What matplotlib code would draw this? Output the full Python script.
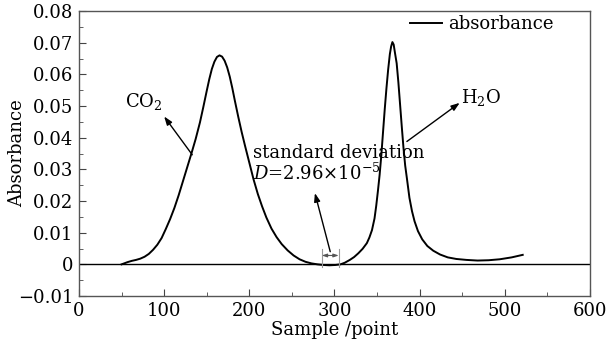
# absorbance curve with CO2 and H2O peaks

import numpy as np
import matplotlib.pyplot as plt
from matplotlib.ticker import MultipleLocator

plt.rcParams['font.family'] = ['DejaVu Serif']
plt.rcParams['mathtext.fontset'] = 'dejavuserif'

#-----------------------------------
# data
sample = [50, 53, 57, 62, 67, 72, 77, 82, 87, 92, 97, 102, 107, 112, 117, 122,
          127, 132, 137, 142, 146, 150, 153, 156, 159, 162, 165, 168, 171, 174,
          177, 180, 183, 187, 191, 195, 200, 205, 210, 215, 220, 226, 232, 238,
          245, 252, 259, 266, 273, 280, 287, 294, 301, 307, 312, 318, 323, 328,
          333, 338, 341, 344, 347, 349, 351, 353, 355, 357, 359, 361, 363, 365,
          366.5, 368, 369.5, 371, 373, 375, 377, 379, 381, 383, 385, 388, 391,
          394, 398, 403, 409, 416, 424, 433, 443, 455, 468, 481, 494, 508, 521]

absorb = [0.0, 0.0003, 0.0007, 0.0011, 0.0014, 0.0018, 0.0024, 0.0033, 0.0046,
          0.0062, 0.0083, 0.0112, 0.0143, 0.0178, 0.0218, 0.0262, 0.0306, 0.035,
          0.0396, 0.0448, 0.0497, 0.0548, 0.0585, 0.0617, 0.064, 0.0655, 0.066,
          0.0656, 0.0643, 0.0622, 0.0593, 0.0557, 0.0517, 0.0466, 0.0418, 0.0374,
          0.0321, 0.0268, 0.0222, 0.0183, 0.0148, 0.0113, 0.0086, 0.0064, 0.0044,
          0.0028, 0.0016, 0.0008, 0.0003, 0.0, -0.0002, -0.0003, -0.0002, 0.0,
          0.0005, 0.0014, 0.0023, 0.0035, 0.0049, 0.0067, 0.0085, 0.0108, 0.0145,
          0.0185, 0.0232, 0.0283, 0.0345, 0.0418, 0.049, 0.0556, 0.0615, 0.0664,
          0.0688, 0.0702, 0.0694, 0.0668, 0.0635, 0.0575, 0.0505, 0.0435, 0.0368,
          0.0312, 0.0272, 0.021, 0.0168, 0.0136, 0.0105, 0.0079, 0.0058, 0.0043,
          0.0031, 0.0022, 0.0017, 0.0014, 0.0012, 0.0013, 0.0016, 0.0022, 0.003]

std_window = [285, 305]   # samples used for the standard deviation

xticks = [0, 100, 200, 300, 400, 500, 600]
yticks = [-0.01, 0, 0.01, 0.02, 0.03, 0.04, 0.05, 0.06, 0.07, 0.08]
ylabels = ['\u22120.01', '0', '0.01', '0.02', '0.03', '0.04', '0.05',
           '0.06', '0.07', '0.08']

#-----------------------------------
fig = plt.figure(figsize=(6.09, 3.45), dpi=100)
ax = fig.add_axes([0.1297, 0.142, 0.8391, 0.826])

ax.plot(sample, absorb, color='k', lw=1.4, label='absorbance',
        solid_joinstyle='round')
ax.axhline(0, color='k', lw=1.0)

ax.set_xlim(0, 600)
ax.set_ylim(-0.01, 0.08)
ax.set_xticks(xticks)
ax.set_xticklabels([str(t) for t in xticks])
ax.set_yticks(yticks)
ax.set_yticklabels(ylabels)
ax.xaxis.set_minor_locator(MultipleLocator(50))
ax.yaxis.set_minor_locator(MultipleLocator(0.005))
ax.tick_params(which='both', direction='in', labelsize=13, top=False, right=False,
               color='#444444')
ax.tick_params(which='major', length=5, pad=4)
ax.tick_params(which='minor', length=3)
for s in ax.spines.values():
    s.set_color('#555555')
    s.set_linewidth(1.0)

ax.set_xlabel('Sample /point', fontsize=13, labelpad=1)
ax.set_ylabel('Absorbance', fontsize=13)
ax.yaxis.set_label_coords(-0.104, 0.5)

# annotations: arrow heads point at the labels
arr = dict(arrowstyle='-|>,head_length=0.5,head_width=0.18', color='k', lw=1.0,
           shrinkA=0, shrinkB=0)
ax.text(98, 0.0498, 'CO$_2$', fontsize=13, ha='right', va='baseline')
ax.annotate('', xy=(100, 0.0467), xytext=(133, 0.0346), arrowprops=arr)
ax.text(449, 0.0508, 'H$_2$O', fontsize=13, ha='left', va='baseline')
ax.annotate('', xy=(447, 0.051), xytext=(385, 0.0388), arrowprops=arr)
ax.annotate('', xy=(277, 0.0225), xytext=(295, 0.004), arrowprops=arr)
ax.text(204, 0.0352, 'standard deviation', fontsize=13, va='center', ha='left')
ax.text(204, 0.0289, '$D$=2.96\u00d710$^{-5}$', fontsize=13, va='center', ha='left')

# bracket around the window
for xb in std_window:
    ax.plot([xb, xb], [-0.0007, 0.005], color='#999999', lw=0.8)
ax.annotate('', xy=(std_window[0], 0.0028), xytext=(std_window[1], 0.0028),
            arrowprops=dict(arrowstyle='<|-|>,head_length=0.3,head_width=0.1',
                            color='#555555', lw=0.8, shrinkA=0, shrinkB=0))

ax.legend(loc='upper right', bbox_to_anchor=(0.928, 0.986), frameon=False,
          fontsize=13, handlelength=1.8, handletextpad=0.3, borderpad=0,
          borderaxespad=0)

fig.savefig('out.png', dpi=100)
